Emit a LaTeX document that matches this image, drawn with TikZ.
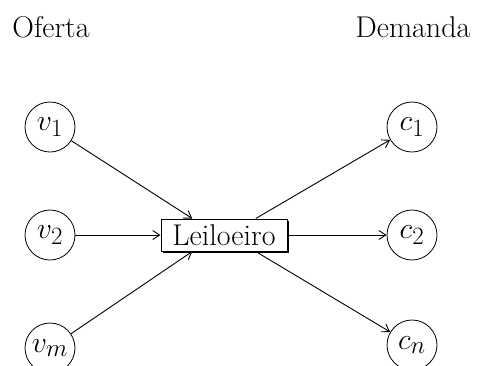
\documentclass[tikz,border=0pt]{standalone}
\usetikzlibrary{arrows.meta,shadows,calc}
\newcommand{\bigmath}[1]{\scalebox{1.2}{$#1$}}
\begin{document}
\begin{tikzpicture}[x=1pt,y=-1pt,
  bigfont/.style={font=\fontsize{30}{35}\selectfont},
  agent/.style={circle,draw,line width=0.8pt,minimum size=50pt,inner sep=0pt,bigfont},
  hub/.style={draw,line width=1pt,fill=white,minimum width=126pt,minimum height=32pt,inner sep=0pt,bigfont,
    drop shadow={shadow xshift=2pt,shadow yshift=-2pt,fill=black,opacity=1}},
  conn/.style={line width=0.9pt,-{Straight Barb[length=7pt,width=9pt,line width=0.9pt]}},
  title/.style={anchor=base,bigfont}]
\useasboundingbox (0,0) rectangle (478,365);
\node[title] (of) at (51,37) {Oferta};
\node[title] (de) at (413,37) {Demanda};
\node[agent] (v1) at (50,127) {\bigmath{v_1}};
\node[agent] (v2) at (50,235) {\bigmath{v_2}};
\node[agent] (vm) at (50,348) {\bigmath{v_m}};
\node[agent] (c1) at (412,127) {\bigmath{c_1}};
\node[agent] (c2) at (412,235) {\bigmath{c_2}};
\node[agent] (cn) at (412,345) {\bigmath{c_n}};
\node[hub] (L) at (224,235) {Leiloeiro};
\coordinate (Lnw) at ($(L.north west)!0.25!(L.north east)$);
\coordinate (Lsw) at ($(L.south west)!0.25!(L.south east)$);
\coordinate (Lne) at ($(L.north west)!0.75!(L.north east)$);
\coordinate (Lse) at ($(L.south west)!0.75!(L.south east)$);
\draw[conn] (v1) -- (Lnw);
\draw[conn] (v2) -- (L.west);
\draw[conn] (vm) -- (Lsw);
\draw[conn] (Lne) -- (c1);
\draw[conn] (L.east) -- (c2);
\draw[conn] (Lse) -- (cn);
\end{tikzpicture}
\end{document}
